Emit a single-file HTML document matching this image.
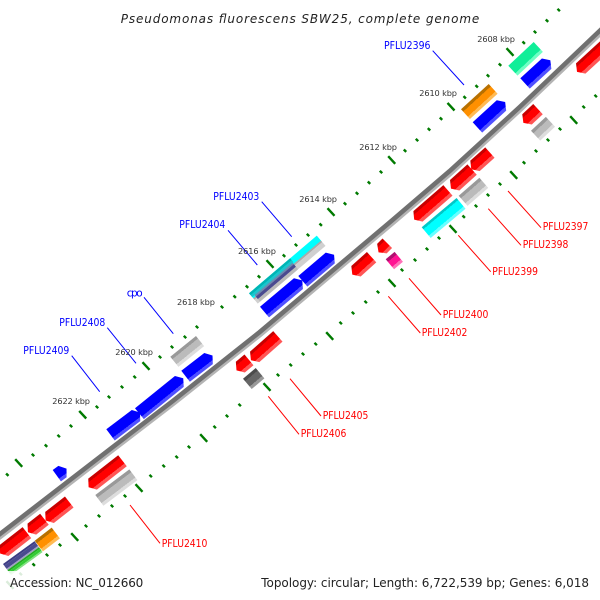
<!DOCTYPE html>
<html><head><meta charset="utf-8"><style>html,body{margin:0;padding:0;background:#fff}svg{display:block}text{font-family:"DejaVu Sans","Liberation Sans",sans-serif}</style></head>
<body>
<svg width="600" height="600" viewBox="0 0 600 600" xmlns="http://www.w3.org/2000/svg">
<defs>
<linearGradient id="r" x1="0" y1="0" x2="0" y2="1"><stop offset=".22" stop-color="#c80000"/><stop offset=".22" stop-color="#f00"/><stop offset=".74" stop-color="#f00"/><stop offset=".74" stop-color="#ff5555"/></linearGradient>
<linearGradient id="b" x1="0" y1="0" x2="0" y2="1"><stop offset=".76" stop-color="#00f"/><stop offset=".76" stop-color="#5050ff"/></linearGradient>
<linearGradient id="g" x1="0" y1="0" x2="0" y2="1"><stop offset=".25" stop-color="#999"/><stop offset=".25" stop-color="#bbb"/><stop offset=".75" stop-color="#bbb"/><stop offset=".75" stop-color="#ddd"/></linearGradient>
<linearGradient id="c" x1="0" y1="0" x2="0" y2="1"><stop offset=".18" stop-color="#00c8c8"/><stop offset=".18" stop-color="#0ff"/><stop offset=".78" stop-color="#0ff"/><stop offset=".78" stop-color="#66ffff"/></linearGradient>
<linearGradient id="m" x1="0" y1="0" x2="0" y2="1"><stop offset=".76" stop-color="#10ee98"/><stop offset=".76" stop-color="#70ffc4"/></linearGradient>
<linearGradient id="o" x1="0" y1="0" x2="0" y2="1"><stop offset=".24" stop-color="#b87000"/><stop offset=".24" stop-color="#ff9000"/><stop offset=".76" stop-color="#ff9000"/><stop offset=".76" stop-color="#ffbb55"/></linearGradient>
<linearGradient id="k" x1="0" y1="0" x2="0" y2="1"><stop offset=".26" stop-color="#b01070"/><stop offset=".26" stop-color="#ff1493"/><stop offset=".76" stop-color="#ff1493"/><stop offset=".76" stop-color="#ff70b8"/></linearGradient>
<linearGradient id="d" x1="0" y1="0" x2="0" y2="1"><stop offset=".24" stop-color="#4c4c4c"/><stop offset=".24" stop-color="#666"/><stop offset=".76" stop-color="#666"/><stop offset=".76" stop-color="#999"/></linearGradient>
</defs>

<!-- ticks -->
<path fill="none" stroke="#007a00" stroke-width="2.4" d="M557.5 8.8l2.4 2.4M545.8 19.5l2.4 2.4M533.8 30.8l2.4 2.4M522.5 41.5l2.4 2.4M506.5 48.2l7 7.6M498.8 63.5l2.4 2.4M486.8 74.5l2.4 2.4M475.5 85.1l2.4 2.4M463.5 96.1l2.4 2.4M447.5 102.9l7 7.6M439.8 117.5l2.4 2.4M427.8 128.1l2.4 2.4M415.8 138.8l2.4 2.4M403.8 149.5l2.4 2.4M388.2 156.2l7 7.6M379.8 170.8l2.4 2.4M367.8 181.5l2.4 2.4M355.8 192.1l2.4 2.4M343.8 202.5l2.4 2.4M327.5 208.2l7 7.6M319.5 223.5l2.4 2.4M306.8 233.8l2.4 2.4M294.8 243.8l2.4 2.4M282.8 254.5l2.4 2.4M266.5 260.2l7 7.6M257.8 275.5l2.4 2.4M245.8 285.5l2.4 2.4M233.5 295.5l2.4 2.4M220.8 305.8l2.4 2.4M195.8 325.8l2.4 2.4M183.8 335.8l2.4 2.4M170.8 345.8l2.4 2.4M158.8 355.8l2.4 2.4M142.5 362.2l7 7.6M133.5 375.8l2.4 2.4M120.8 385.8l2.4 2.4M107.8 395.8l2.4 2.4M95.8 405.8l2.4 2.4M79.2 410.9l7 7.6M69.8 424.8l2.4 2.4M57.5 434.8l2.4 2.4M44.8 444.5l2.4 2.4M31.8 453.8l2.4 2.4M15.2 459.2l7 7.6M6.1 473.5l2.4 2.4"/>
<path fill="none" stroke="#007a00" stroke-width="2.4" d="M594.5 94.8l2.4 2.4M582.5 105.8l2.4 2.4M570.2 116.2l7 7.6M558.8 127.8l2.4 2.4M546.8 138.8l2.4 2.4M534.8 149.8l2.4 2.4M522.8 161.5l2.4 2.4M510.2 171.2l7 7.6M498.8 182.8l2.4 2.4M486.8 193.8l2.4 2.4M474.8 204.8l2.4 2.4M462.5 215.5l2.4 2.4M449.5 225.2l7 7.6M437.8 236.8l2.4 2.4M425.8 247.8l2.4 2.4M413.8 258.8l2.4 2.4M400.8 268.8l2.4 2.4M388.5 279.2l7 7.6M376.8 290.8l2.4 2.4M364.5 300.8l2.4 2.4M351.8 311.8l2.4 2.4M339.5 321.8l2.4 2.4M326.2 332.2l7 7.6M314.5 342.8l2.4 2.4M301.8 352.8l2.4 2.4M289.5 363.8l2.4 2.4M276.8 373.8l2.4 2.4M263.5 383.2l7 7.6M238.5 403.8l2.4 2.4M225.8 414.8l2.4 2.4M213.5 425.8l2.4 2.4M200.2 434.2l7 7.6M187.8 445.8l2.4 2.4M175.5 455.8l2.4 2.4M162.5 464.8l2.4 2.4M149.5 474.8l2.4 2.4M135.5 484.2l7 7.6M123.8 494.8l2.4 2.4M110.8 504.8l2.4 2.4M97.8 514.8l2.4 2.4M84.8 524.8l2.4 2.4M71.2 533.2l7 7.6M58.8 543.8l2.4 2.4M45.8 553.8l2.4 2.4M32.5 563.5l2.4 2.4M19.5 572.8l2.4 2.4M6.5 581.2l7 7.6"/>

<!-- backbone -->
<polyline transform="translate(1.3,1.6)" fill="none" stroke="#b4b4b4" stroke-width="3.6" points="-5,539 113,448 173,402 260,333 394,220 450,172 520,108 605,27"/>
<polyline transform="translate(-.6,-.7)" fill="none" stroke="#707070" stroke-width="4.6" points="-5,539 113,448 173,402 260,333 394,220 450,172 520,108 605,27"/>

<!-- genes upper track -->
<rect transform="translate(508.3,65.7) rotate(-43)" width="34.7" height="13.5" fill="url(#m)"/>
<polygon transform="translate(520.3,78.3) rotate(-42.5)" points="0,0 29.3,0 34.3,7 29.3,14 0,14" fill="url(#b)"/>
<rect transform="translate(461,109.3) rotate(-42.4)" width="37.5" height="13.2" fill="url(#o)"/>
<polygon transform="translate(472.7,122.3) rotate(-42.5)" points="0,0 32.6,0 37.6,7 32.6,14 0,14" fill="url(#b)"/>

<g transform="translate(249,293.3) rotate(-40.4)">
<rect x="0" y="6" width="89" height="2.5" fill="#aaa"/>
<rect x="0" y="8.5" width="89" height="5" fill="#d0d0d0"/>
<rect x="0" y="0" width="89" height="6.5" fill="#0ff"/>
<rect x="0" y="0" width="54" height="2.6" fill="#00b4b4"/>
<rect x="0" y="2.6" width="54" height="2.4" fill="#1cc4cc"/>
<rect x="3" y="5" width="50" height="2" fill="#6a8ab0"/>
<rect x="3" y="7" width="50" height="3.2" fill="#4a4a90"/>
<rect x="3" y="10.2" width="50" height="3.3" fill="#bbb"/>
</g>
<polygon transform="translate(298.3,276) rotate(-40.4)" points="0,0 36,0 41,7 36,14 0,14" fill="url(#b)"/>
<polygon transform="translate(260,306.7) rotate(-40)" points="0,0 44.3,0 49.3,7 44.3,14 0,14" fill="url(#b)"/>

<rect transform="translate(170.3,356.7) rotate(-38.9)" width="33" height="13" fill="url(#g)"/>
<polygon transform="translate(181.3,370.7) rotate(-37.6)" points="0,0 29,0 34,7 29,14 0,14" fill="url(#b)"/>
<polygon transform="translate(135,408.3) rotate(-39)" points="0,0 51.4,0 56.4,7 51.4,14 0,14" fill="url(#b)"/>
<polygon transform="translate(106.3,429.3) rotate(-37.2)" points="0,0 32,0 37,7 32,14 0,14" fill="url(#b)"/>
<polygon transform="translate(52.7,470) rotate(-36)" points="0,0 7,0 12,7 7,14 0,14" fill="url(#b)"/>

<!-- genes lower track -->
<polygon transform="translate(572.3,66.7) rotate(-42.5)" points="5,0 50,0 50,14 5,14 0,7" fill="url(#r)"/>
<polygon transform="translate(518.6,117.7) rotate(-43)" points="5,0 20,0 20,14 5,14 0,7" fill="url(#r)"/>
<rect transform="translate(531,130.7) rotate(-43)" width="20.3" height="13.5" fill="url(#g)"/>
<polygon transform="translate(466.6,164) rotate(-41.8)" points="5,0 25,0 25,14 5,14 0,7" fill="url(#r)"/>
<polygon transform="translate(446.3,183.4) rotate(-42)" points="5,0 28.4,0 28.4,14 5,14 0,7" fill="url(#r)"/>
<polygon transform="translate(409.6,214.4) rotate(-41)" points="5,0 44.7,0 44.7,14 5,14 0,7" fill="url(#r)"/>
<rect transform="translate(421.7,227.3) rotate(-40)" width="45.5" height="14" fill="url(#c)"/>
<rect transform="translate(458.7,195.7) rotate(-41)" width="27.4" height="13.5" fill="url(#g)"/>
<polygon transform="translate(373.6,247.4) rotate(-45)" points="5,0 12.6,0 12.6,13.5 5,13.5 0,7" fill="url(#r)"/>
<rect transform="translate(385.7,259.3) rotate(-40)" width="11.6" height="13" fill="url(#k)"/>
<polygon transform="translate(347.6,269.4) rotate(-42)" points="5,0 26,0 26,14 5,14 0,7" fill="url(#r)"/>
<polygon transform="translate(246.3,355) rotate(-41.6)" points="5,0 36,0 36,14 5,14 0,7" fill="url(#r)"/>
<polygon transform="translate(232,365) rotate(-40)" points="5,0 16.3,0 16.3,14 5,14 0,7" fill="url(#r)"/>
<rect transform="translate(243,378.7) rotate(-40)" width="16.6" height="13.5" fill="url(#d)"/>
<polygon transform="translate(84.3,481.7) rotate(-38)" points="5,0 43,0 43,14 5,14 0,7" fill="url(#r)"/>
<rect transform="translate(95.3,495) rotate(-37)" width="42.6" height="13.5" fill="url(#g)"/>
<polygon transform="translate(41.3,515) rotate(-38)" points="5,0 30,0 30,14 5,14 0,7" fill="url(#r)"/>
<polygon transform="translate(23.6,526.7) rotate(-38)" points="5,0 21,0 21,14 5,14 0,7" fill="url(#r)"/>
<polygon transform="translate(-4.2,548) rotate(-38)" points="5,0 34,0 34,14 5,14 0,7" fill="url(#r)"/>
<rect transform="translate(34.7,540.7) rotate(-37.5)" width="21.4" height="13.5" fill="url(#o)"/>
<g transform="translate(3,564) rotate(-36)">
<rect width="39" height="2" fill="#3c3c84"/>
<rect y="2" width="39" height="4" fill="#4a4a90"/>
<rect y="6" width="39" height="1.6" fill="#a0a0c0"/>
<rect y="7.6" width="39" height="1.8" fill="#22aa22"/>
<rect y="9.4" width="39" height="2.6" fill="#33cc33"/>
<rect y="12" width="39" height="1.6" fill="#80e080"/>
</g>

<!-- veil -->
<rect x="0" y="571" width="600" height="29" fill="#fff" fill-opacity=".86"/>

<!-- leader lines -->
<g stroke="#0000ff" stroke-width="1" fill="none">
<line x1="432.7" y1="50.7" x2="464" y2="85"/>
<line x1="261.7" y1="201.7" x2="291.7" y2="236.7"/>
<line x1="228" y1="230.3" x2="257.3" y2="265"/>
<line x1="144" y1="297.3" x2="173.3" y2="333.7"/>
<line x1="107.3" y1="327.7" x2="136" y2="363.3"/>
<line x1="71.7" y1="355.7" x2="99.7" y2="391.7"/>
</g>
<g stroke="#ff0000" stroke-width="1" fill="none">
<line x1="508" y1="191" x2="541" y2="227.7"/>
<line x1="488.3" y1="208.7" x2="521" y2="245.3"/>
<line x1="458.3" y1="235.3" x2="490.7" y2="271.7"/>
<line x1="409" y1="278.3" x2="441" y2="315"/>
<line x1="388.3" y1="296.3" x2="420.3" y2="333"/>
<line x1="290" y1="378.7" x2="321" y2="416"/>
<line x1="268.3" y1="396.3" x2="299" y2="434.3"/>
<line x1="130" y1="505" x2="160" y2="543.3"/>
</g>

<!-- labels -->
<text x="120.7" y="23" font-size="12" font-style="italic" fill="#222" textLength="358.6" lengthAdjust="spacing">Pseudomonas fluorescens SBW25, complete genome</text>
<g font-size="10.5" fill="#0000ff">
<text x="384" y="49" textLength="46.5" lengthAdjust="spacingAndGlyphs">PFLU2396</text>
<text x="213.3" y="200" textLength="46" lengthAdjust="spacingAndGlyphs">PFLU2403</text>
<text x="179.3" y="228" textLength="46" lengthAdjust="spacingAndGlyphs">PFLU2404</text>
<text x="126.7" y="296.5" textLength="16" lengthAdjust="spacing">cpo</text>
<text x="59.3" y="326" textLength="46" lengthAdjust="spacingAndGlyphs">PFLU2408</text>
<text x="23.3" y="354" textLength="46" lengthAdjust="spacingAndGlyphs">PFLU2409</text>
</g>
<g font-size="10.5" fill="#ff0000">
<text x="542.7" y="230" textLength="45.7" lengthAdjust="spacingAndGlyphs">PFLU2397</text>
<text x="522.7" y="248" textLength="45.7" lengthAdjust="spacingAndGlyphs">PFLU2398</text>
<text x="492.3" y="275" textLength="45.7" lengthAdjust="spacingAndGlyphs">PFLU2399</text>
<text x="442.7" y="318" textLength="45.7" lengthAdjust="spacingAndGlyphs">PFLU2400</text>
<text x="421.7" y="336" textLength="45.7" lengthAdjust="spacingAndGlyphs">PFLU2402</text>
<text x="322.7" y="419" textLength="45.7" lengthAdjust="spacingAndGlyphs">PFLU2405</text>
<text x="300.7" y="437" textLength="45.7" lengthAdjust="spacingAndGlyphs">PFLU2406</text>
<text x="161.7" y="547" textLength="45.7" lengthAdjust="spacingAndGlyphs">PFLU2410</text>
</g>
<g font-size="8.2" fill="#333">
<text x="477.3" y="42" textLength="37.7" lengthAdjust="spacing">2608 kbp</text>
<text x="419.3" y="96" textLength="37.7" lengthAdjust="spacing">2610 kbp</text>
<text x="359.3" y="150" textLength="37.7" lengthAdjust="spacing">2612 kbp</text>
<text x="299.3" y="202" textLength="37.7" lengthAdjust="spacing">2614 kbp</text>
<text x="238" y="254" textLength="38" lengthAdjust="spacing">2616 kbp</text>
<text x="177" y="305" textLength="38" lengthAdjust="spacing">2618 kbp</text>
<text x="115.3" y="355" textLength="37.7" lengthAdjust="spacing">2620 kbp</text>
<text x="52.3" y="404" textLength="37.7" lengthAdjust="spacing">2622 kbp</text>
</g>
<g font-size="12" fill="#222">
<text x="10" y="587" textLength="133.3" lengthAdjust="spacing">Accession: NC_012660</text>
<text x="261.3" y="587" textLength="327.7" lengthAdjust="spacing">Topology: circular; Length: 6,722,539 bp; Genes: 6,018</text>
</g>
</svg>
</body></html>
